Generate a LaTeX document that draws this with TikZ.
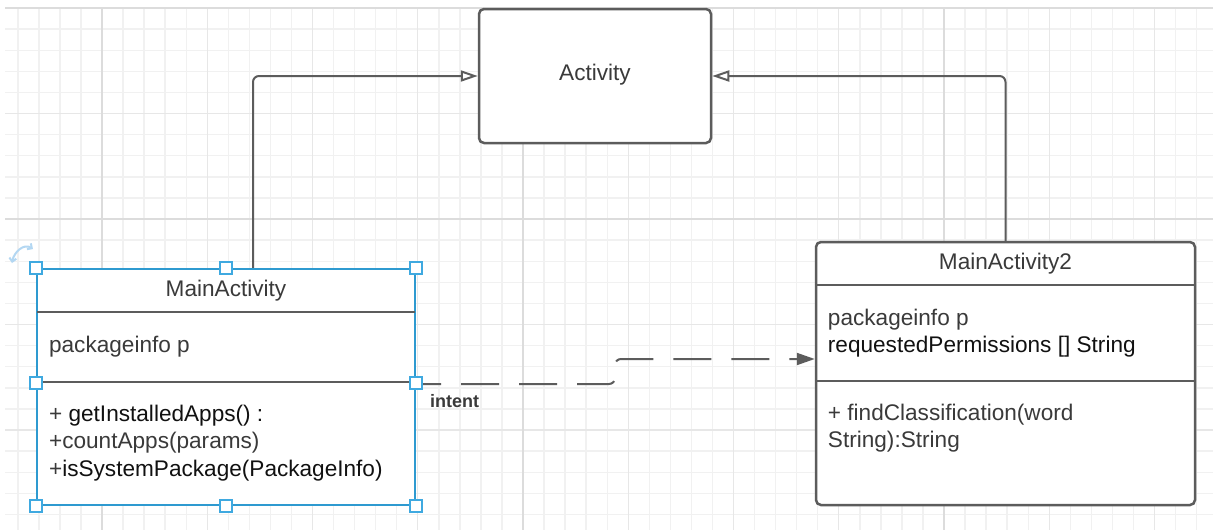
\documentclass[tikz,border=0pt]{standalone}
\usepackage{fontspec}
\setmainfont{Liberation Sans}
\usetikzlibrary{arrows.meta,calc}

\definecolor{edgegray}{HTML}{5C5C5C}
\definecolor{textgray}{HTML}{3A3A3A}
\definecolor{textdark}{HTML}{111111}
\definecolor{selblue}{HTML}{2E9AD0}
\definecolor{handleblue}{HTML}{3FA9E0}
\definecolor{rotblue}{HTML}{B3D7F2}
\definecolor{gridminor}{HTML}{F1F1F1}
\definecolor{gridmid}{HTML}{E7E7E7}
\definecolor{gridmajor}{HTML}{DCDCDC}

\tikzset{
  boxtext/.style={font=\fontsize{22.6}{27.5}\selectfont, text=textgray},
  umlbox/.style={draw=edgegray, line width=2.5pt, rounded corners=5pt, fill=white, inner sep=0pt},
  selbox/.style={draw=selblue, line width=2.2pt, fill=white, inner sep=0pt},
  divider/.style={draw=edgegray, line width=2.5pt},
  titletext/.style={boxtext, anchor=center, inner sep=0pt},
  membertext/.style={boxtext, anchor=west, align=left, inner sep=0pt},
  handle/.style={draw=handleblue, fill=white, line width=1.5pt, minimum size=12pt, inner sep=0pt, rectangle},
  generalization/.style={draw=edgegray, line width=2pt, rounded corners=6pt,
    -{Triangle[open, length=17pt, width=11pt, line width=2pt]}},
  dependency/.style={draw=edgegray, line width=2pt, rounded corners=6pt,
    dash pattern=on 38pt off 20pt, dash phase=13pt,
    -{Triangle[length=18pt, width=12pt]}},
  rotation/.style={draw=rotblue, line width=2pt, {Straight Barb[length=3.5pt]}-{Straight Barb[length=3.5pt]}}
}

\begin{document}
\begin{tikzpicture}[x=1pt, y=-1pt]
\useasboundingbox (0,0) rectangle (1213,530);
\fill[white] (0,0) rectangle (1213,530);

% background grid: fine cells, every fifth line darker, every twentieth darker still
\foreach \k in {0,...,56} {
  \pgfmathsetmacro\gx{17.8+21.05*\k}
  \draw[gridminor, line width=1.4pt] (\gx,8) -- (\gx,530);
}
\foreach \k in {0,...,24} {
  \pgfmathsetmacro\gy{8+21.1*\k}
  \draw[gridminor, line width=1.4pt] (5,\gy) -- (1213,\gy);
}
\foreach \k in {4,9,...,54} {
  \pgfmathsetmacro\gx{17.8+21.05*\k}
  \draw[gridmid, line width=1.4pt] (\gx,8) -- (\gx,530);
}
\foreach \k in {0,5,...,20} {
  \pgfmathsetmacro\gy{8+21.1*\k}
  \draw[gridmid, line width=1.4pt] (5,\gy) -- (1213,\gy);
}
\foreach \k in {4,24,44} {
  \pgfmathsetmacro\gx{17.8+21.05*\k}
  \draw[gridmajor, line width=1.6pt] (\gx,8) -- (\gx,530);
}
\draw[gridmajor, line width=1.6pt] (5,219) -- (1213,219);
\draw[gridmajor, line width=1.6pt] (5,8) -- (1213,8);

% superclass
\node[umlbox, minimum width=232pt, minimum height=134pt] (act) at (595,76) {};
\node[titletext] (act-title) at (595,75) {Activity};

% class MainActivity (currently selected)
\node[selbox, minimum width=378pt, minimum height=236pt] (ma) at (226,387) {};
\draw[divider] ($(ma.north west)+(1.2,44)$) -- ($(ma.north east)+(-1.2,44)$);
\draw[divider] ($(ma.north west)+(1.2,114)$) -- ($(ma.north east)+(-1.2,114)$);
\node[titletext] (ma-title) at ($(ma.north)+(0,23)$) {MainActivity};
\node[membertext] (ma-attr) at ($(ma.north west)+(13,79)$) {packageinfo p};
\node[membertext] (ma-ops) at ($(ma.north west)+(13,175)$)
  {+ \textcolor{textdark}{getInstalledApps() :}\\
   +countApps(params)\\
   +\textcolor{textdark}{isSystemPackage(PackageInfo)}};

% class MainActivity2
\node[umlbox, minimum width=379pt, minimum height=263pt] (ma2) at (1005.5,373.5) {};
\draw[divider] ($(ma2.north west)+(0,44)$) -- ($(ma2.north east)+(0,44)$);
\draw[divider] ($(ma2.north west)+(0,140)$) -- ($(ma2.north east)+(0,140)$);
\node[titletext] (ma2-title) at ($(ma2.north)+(0,23)$) {MainActivity2};
\node[membertext] (ma2-attr) at ($(ma2.north west)+(13,92.5)$)
  {packageinfo p\\ \textcolor{textdark}{requestedPermissions [] String}};
\node[membertext] (ma2-ops) at ($(ma2.north west)+(13,187.5)$)
  {+ findClassification(word\\ String):String};

% inheritance arrows
\draw[generalization] ($(ma.north)+(27,0)$) |- (act.west);
\draw[generalization] (ma2.north) |- (act.east);

% intent dependency
\coordinate (dep-start) at ($(ma.east)+(0,-3)$);
\coordinate (dep-end) at ($(ma2.west)+(0,-14.5)$);
\coordinate (dep-step) at (615,0);
\draw[dependency] (dep-start) -- (dep-start -| dep-step) -- (dep-end -| dep-step) -- (dep-end);
\node[anchor=west, inner sep=0pt, font=\fontsize{18}{21}\selectfont\bfseries, text=textgray]
  (intent) at (430,401) {intent};

% selection handles
\foreach \a/\n in {north west/1, north/2, north east/3, south west/4, south/5, south east/6} {
  \node[handle] (h\n) at (ma.\a) {};
}
\node[handle] (h7) at ($(ma.north west)+(0,115)$) {};
\node[handle] (h8) at ($(ma.north east)+(0,115)$) {};

% rotate grip
\coordinate (rot-a) at (12,263);
\coordinate (rot-b) at (33,249);
\draw[rotation] (rot-a) .. controls (14,252) and (24,243) .. (rot-b);
\end{tikzpicture}
\end{document}
